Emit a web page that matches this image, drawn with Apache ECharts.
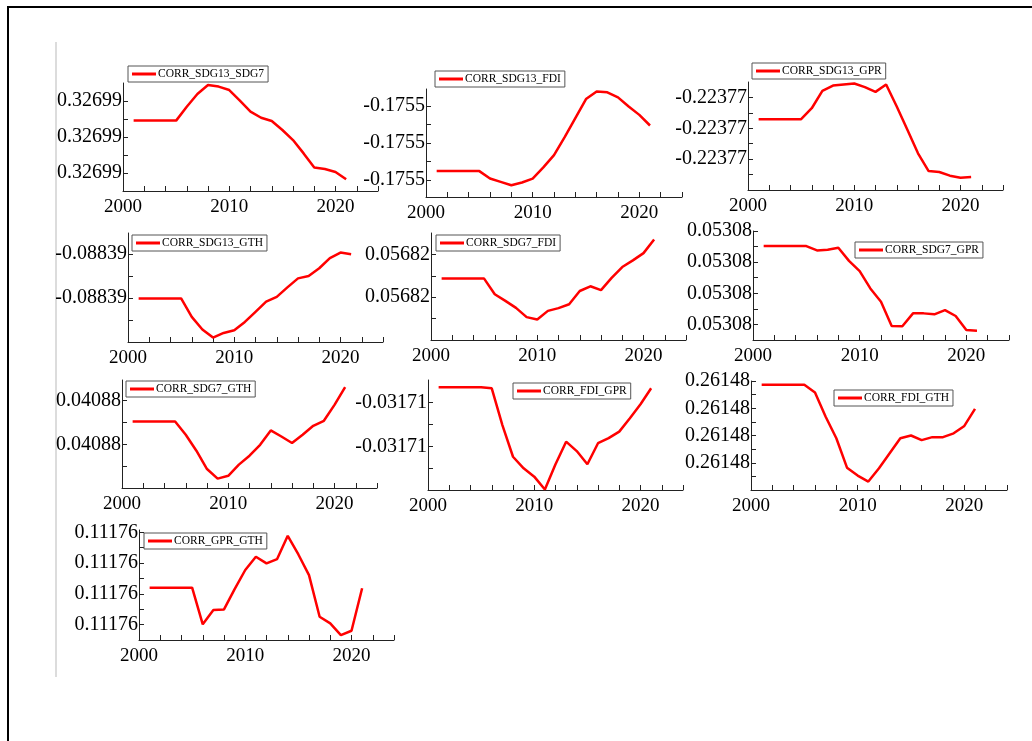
<!DOCTYPE html>
<html>
<head>
<meta charset="utf-8">
<script src="https://cdn.jsdelivr.net/npm/echarts@6/dist/echarts.min.js"></script>
<style>
  html, body { margin: 0; padding: 0; background: #fff; }
  #chart { width: 1032px; height: 741px; }
</style>
</head>
<body>
<div id="chart"></div>
<script>
// years on the x axis
const years = [2001, 2002, 2003, 2004, 2005, 2006, 2007, 2008, 2009, 2010, 2011,
  2012, 2013, 2014, 2015, 2016, 2017, 2018, 2019, 2020, 2021]
const xLabelYears = [2000, 2010, 2020]
const xTickYears = [2000, 2002, 2004, 2006, 2008, 2010, 2012, 2014, 2016, 2018, 2020, 2022, 2024]

// series names (legend text)
const seriesNames = [
  'CORR_SDG13_SDG7', 'CORR_SDG13_FDI', 'CORR_SDG13_GPR',
  'CORR_SDG13_GTH', 'CORR_SDG7_FDI', 'CORR_SDG7_GPR',
  'CORR_SDG7_GTH', 'CORR_FDI_GPR', 'CORR_FDI_GTH',
  'CORR_GPR_GTH',
]

// y tick label text (the variation is below the printed precision)
const yLabelText = ['0.32699', '-0.1755', '-0.22377', '-0.08839', '0.05682',
  '0.05308', '0.04088', '-0.03171', '0.26148', '0.11176']

// values in tick units (relative position along each y axis)
const corrSdg13Sdg7 = [3.91, 3.91, 3.91, 3.91, 3.91, 4.68, 5.39, 5.89, 5.8, 5.61, 5.02, 4.41, 4.07, 3.89, 3.39, 2.83, 2.09, 1.30, 1.22, 1.06, 0.65]
const corrSdg13Fdi = [1.49, 1.49, 1.49, 1.49, 1.49, 1.09, 0.91, 0.73, 0.88, 1.09, 1.69, 2.35, 3.31, 4.34, 5.36, 5.77, 5.72, 5.45, 4.96, 4.51, 3.94]
const corrSdg13Gpr = [4.59, 4.59, 4.59, 4.59, 4.59, 5.30, 6.43, 6.77, 6.84, 6.90, 6.67, 6.36, 6.84, 5.41, 3.90, 2.38, 1.23, 1.17, 0.93, 0.80, 0.84]
const corrSdg13Gth = [1.98, 1.98, 1.98, 1.98, 1.98, 1.14, 0.57, 0.20, 0.41, 0.53, 0.91, 1.37, 1.83, 2.05, 2.48, 2.89, 3.00, 3.35, 3.81, 4.06, 3.99]
const corrSdg7Fdi = [2.87, 2.87, 2.87, 2.87, 2.87, 2.14, 1.83, 1.50, 1.07, 0.96, 1.36, 1.49, 1.67, 2.29, 2.51, 2.33, 2.90, 3.41, 3.72, 4.06, 4.70]
const corrSdg7Gpr = [6.03, 6.03, 6.03, 6.03, 6.03, 5.75, 5.79, 5.92, 5.08, 4.42, 3.31, 2.46, 0.90, 0.88, 1.71, 1.71, 1.65, 1.92, 1.54, 0.64, 0.60]
const corrSdg7Gth = [3.05, 3.05, 3.05, 3.05, 3.05, 2.44, 1.71, 0.87, 0.43, 0.56, 1.07, 1.48, 1.98, 2.64, 2.36, 2.06, 2.44, 2.85, 3.08, 3.81, 4.62]
const corrFdiGpr = [4.70, 4.70, 4.70, 4.70, 4.70, 4.65, 2.97, 1.52, 0.99, 0.61, 0.02, 1.18, 2.21, 1.78, 1.18, 2.14, 2.37, 2.67, 3.28, 3.92, 4.65]
const corrFdiGth = [7.72, 7.72, 7.72, 7.72, 7.72, 7.16, 5.38, 3.80, 1.64, 1.06, 0.62, 1.60, 2.70, 3.80, 4.00, 3.66, 3.88, 3.88, 4.16, 4.70, 5.96]
const corrGprGth = [3.40, 3.40, 3.40, 3.40, 3.40, 1.02, 1.95, 1.99, 3.31, 4.55, 5.41, 4.98, 5.26, 6.77, 5.56, 4.22, 1.51, 1.08, 0.32, 0.60, 3.36]

const seriesValues = [corrSdg13Sdg7, corrSdg13Fdi, corrSdg13Gpr, corrSdg13Gth, corrSdg7Fdi,
  corrSdg7Gpr, corrSdg7Gth, corrFdiGpr, corrFdiGth, corrGprGth]

// panel layout: plot box, y range, tick / label positions, legend position
const panels = [
  { l: 123, t: 83, r: 378, b: 191, min: 0, max: 6, ticks: [1, 2, 3, 4, 5], labels: [1, 3, 5], lg: [128, 66] },
  { l: 426, t: 89, r: 682, b: 197, min: 0.1, max: 5.9, ticks: [1, 2, 3, 4, 5], labels: [1, 3, 5], lg: [435, 71] },
  { l: 748, t: 82, r: 1003, b: 190, min: 0, max: 7, ticks: [1, 2, 3, 4, 5, 6], labels: [2, 4, 6], lg: [752, 63] },
  { l: 128, t: 233, r: 383, b: 342, min: 0, max: 4.95, ticks: [1, 2, 3, 4], labels: [2, 4], lg: [132, 235] },
  { l: 431, t: 233, r: 686, b: 340, min: 0, max: 5, ticks: [1, 2, 3, 4], labels: [2, 4], lg: [436, 235] },
  { l: 753, t: 231, r: 1009, b: 340, min: 0, max: 7, ticks: [1, 2, 3, 4, 5, 6, 7], labels: [1, 3, 5, 7], lg: [855, 242] },
  { l: 122, t: 380, r: 377, b: 488, min: 0, max: 4.95, ticks: [1, 2, 3, 4], labels: [2, 4], lg: [126, 381] },
  { l: 428, t: 380, r: 683, b: 490, min: 0, max: 5.03, ticks: [1, 2, 3, 4], labels: [2, 4], lg: [513, 383] },
  { l: 751, t: 381, r: 1007, b: 490, min: 0, max: 8, ticks: [1, 2, 3, 4, 5, 6, 7, 8], labels: [2, 4, 6, 8], lg: [834, 390] },
  { l: 139, t: 530, r: 394, b: 640, min: 0, max: 7.15, ticks: [1, 2, 3, 4, 5, 6, 7], labels: [1, 3, 5, 7], lg: [144, 533] },
]

const FONT = 'Liberation Serif, Times New Roman, serif'
const AXIS_COLOR = '#222'

const chart = echarts.init(document.getElementById('chart'))

const grid = panels.map((p) => ({
  left: p.l, top: p.t, width: p.r - p.l, height: p.b - p.t,
  containLabel: false, outerBoundsMode: 'none',
}))

const xAxis = panels.map((p, i) => ({
  type: 'value', gridIndex: i, min: 2000, max: 2024,
  axisLine: { show: true, lineStyle: { color: AXIS_COLOR, width: 1 } },
  axisTick: { show: true, inside: true, length: 5, customValues: xTickYears, lineStyle: { color: AXIS_COLOR } },
  axisLabel: {
    customValues: xLabelYears, color: '#000', fontFamily: FONT, fontSize: 19, margin: 7,
    formatter: (v) => String(v),
  },
  splitLine: { show: false },
}))

const yAxis = panels.map((p, i) => ({
  type: 'value', gridIndex: i, min: p.min, max: p.max,
  axisLine: { show: true, lineStyle: { color: AXIS_COLOR, width: 1 } },
  axisTick: { show: true, inside: true, length: 5, customValues: p.ticks, lineStyle: { color: AXIS_COLOR } },
  axisLabel: {
    customValues: p.labels, color: '#000', fontFamily: FONT, fontSize: 20, margin: 1,
    formatter: () => yLabelText[i],
  },
  splitLine: { show: false },
}))

const legend = panels.map((p, i) => ({
  data: [seriesNames[i]], left: p.lg[0], top: p.lg[1],
  icon: 'rect', itemWidth: 24, itemHeight: 3,
  padding: [2, 4, 2, 4], borderColor: '#555', borderWidth: 1, backgroundColor: '#fff',
  selectedMode: false,
  textStyle: { fontFamily: FONT, fontSize: 11.5, color: '#000', padding: [1, 0, 0, -3] },
}))

const series = seriesValues.map((vals, i) => ({
  name: seriesNames[i], type: 'line', xAxisIndex: i, yAxisIndex: i,
  data: years.map((y, k) => [y, vals[k]]),
  symbol: 'none', smooth: false,
  lineStyle: { color: '#ff0000', width: 2.5 },
  itemStyle: { color: '#ff0000' },
}))

chart.setOption({
  animation: false,
  backgroundColor: '#fff',
  grid, xAxis, yAxis, legend, series,
  graphic: [
    { type: 'rect', shape: { x: 8, y: 7, width: 1100, height: 800 }, style: { fill: 'none', stroke: '#000', lineWidth: 2 }, silent: true },
    { type: 'line', shape: { x1: 56, y1: 42, x2: 56, y2: 677 }, style: { stroke: '#dcdcdc', lineWidth: 2 }, silent: true },
  ],
})
</script>
</body>
</html>
